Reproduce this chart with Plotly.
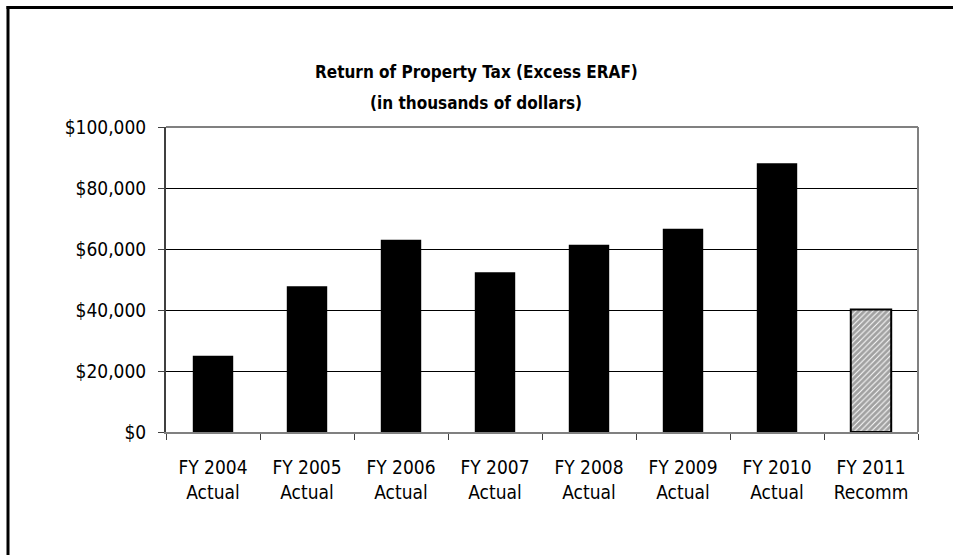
import plotly.graph_objects as go

categories = ["FY 2004<br>Actual", "FY 2005<br>Actual", "FY 2006<br>Actual", "FY 2007<br>Actual",
              "FY 2008<br>Actual", "FY 2009<br>Actual", "FY 2010<br>Actual", "FY 2011<br>Recomm"]
values = [25000, 47800, 63000, 52400, 61400, 66600, 88100, 40200]
tick_vals = [0, 20000, 40000, 60000, 80000, 100000]
tick_text = ["$0", "$20,000", "$40,000", "$60,000", "$80,000", "$100,000"]
title_lines = ["Return of Property Tax (Excess ERAF)", "(in thousands of dollars)"]

W, H = 953, 555
L, R, T, B = 166, 918, 127, 432

fills = ["black"] * 7 + ["white"]
shapes_pat = [""] * 7 + ["/"]

fig = go.Figure()
fig.add_trace(go.Bar(
    x=categories, y=values,
    marker=dict(color=fills,
                line=dict(color="black", width=[0] * 7 + [2]),
                pattern=dict(shape=shapes_pat, fgcolor="black", bgcolor="white",
                             size=4, solidity=0.75)),
    width=0.43,
))

font = "DejaVu Sans Condensed, Liberation Sans Narrow, Arial Narrow, sans-serif"

def px_x(p):
    return (p - L) / (R - L)

def px_y(p):
    return (B - p) / (B - T)

annotations = [
    dict(text="<b>%s</b>" % t, xref="paper", yref="paper", x=px_x(476), y=px_y(yc),
         xanchor="center", yanchor="middle", showarrow=False,
         font=dict(family=font, size=17, color="black"))
    for t, yc in zip(title_lines, [72, 103])
]

fig.update_layout(
    width=W, height=H,
    margin=dict(l=L, r=W - R, t=T, b=H - B, pad=0),
    paper_bgcolor="white", plot_bgcolor="white",
    showlegend=False,
    font=dict(family=font, size=19, color="black"),
    annotations=annotations,
    xaxis=dict(type="category", tickson="boundaries", ticks="outside", ticklen=6,
               tickcolor="#404040", showline=True, linecolor="#808080", linewidth=2,
               showgrid=False, ticklabelstandoff=17,
               tickfont=dict(size=19, family=font, color="black")),
    yaxis=dict(range=[0, 100000], tickvals=tick_vals, ticktext=tick_text,
               ticks="outside", ticklen=6, tickcolor="#404040",
               showline=True, linecolor="#404040", linewidth=2,
               showgrid=True, gridcolor="black", gridwidth=1, zeroline=False,
               ticklabelstandoff=8,
               tickfont=dict(size=19, family=font, color="black")),
    shapes=[
        dict(type="line", xref="paper", yref="paper", x0=0, x1=1, y0=1, y1=1,
             line=dict(color="#808080", width=2)),
        dict(type="line", xref="paper", yref="paper", x0=1, x1=1, y0=0, y1=1,
             line=dict(color="#808080", width=2)),
        dict(type="line", xref="paper", yref="paper", x0=px_x(8), x1=px_x(8),
             y0=px_y(6), y1=px_y(H + 5), line=dict(color="black", width=3)),
        dict(type="line", xref="paper", yref="paper", x0=px_x(6.5), x1=px_x(W + 5),
             y0=px_y(7.5), y1=px_y(7.5), line=dict(color="black", width=3)),
    ],
)

fig.write_html("out.html")
